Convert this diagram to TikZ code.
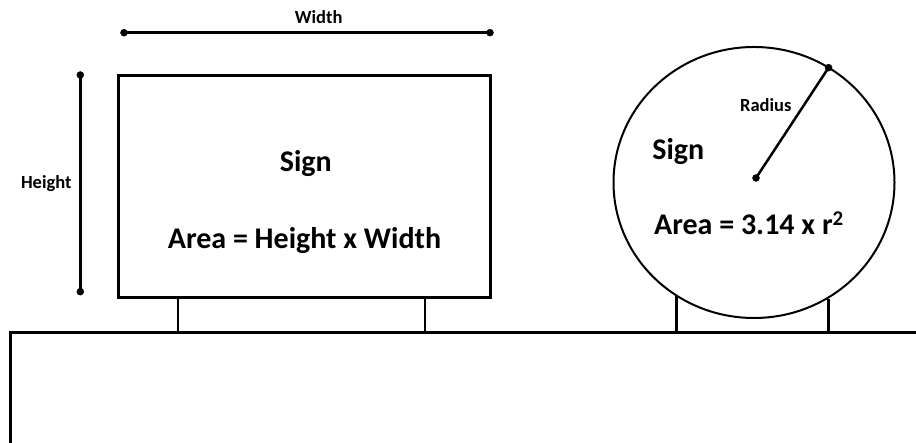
\documentclass[tikz,border=0pt]{standalone}
\usepackage{fontspec}
\setmainfont{Carlito}
\usetikzlibrary{shapes.geometric}

\begin{document}
\begin{tikzpicture}[x=1pt,y=1pt,
  small/.style={font=\fontsize{18.5}{22}\selectfont\bfseries, inner sep=0, anchor=base},
  big/.style={font=\fontsize{30}{36}\selectfont\bfseries, inner sep=0, anchor=base}]
\useasboundingbox (0,0) rectangle (916,443);
% ground
\coordinate (gl) at (10,110);
\coordinate (gr) at (916,110);
\draw[line width=3pt] (10,0)--(gl)--(gr);
% rectangular sign
\node[draw, line width=3pt, minimum width=372pt, minimum height=221.5pt, inner sep=0, outer sep=0] (board) at (304.2,256.4) {};
\coordinate (l1) at (178,110);
\coordinate (l2) at (425,110);
\draw[line width=2.5pt] (l1)--(l1 |- board.south);
\draw[line width=2.5pt] (l2)--(l2 |- board.south);
\node[big] (s1) at (305.8,271) {Sign};
\node[big] (a1) at (304.5,194.7) {Area = Height x Width};
% width
\coordinate (wl) at (124,410.3);
\coordinate (wr) at (490,410.3);
\draw[line width=2.5pt] (wl)--(wr);
\filldraw (wl) circle (3.5pt);
\filldraw (wr) circle (3.5pt);
\node[small] (wt) at (318.7,419.7) {Width};
% height
\coordinate (ht) at (80.3,368);
\coordinate (hb) at (80.3,151.3);
\draw[line width=2.5pt] (ht)--(hb);
\filldraw (ht) circle (3.5pt);
\filldraw (hb) circle (3.5pt);
\node[small] (htx) at (46.3,254.7) {Height};
% round sign
\node[draw, ellipse, line width=2pt, minimum width=281pt, minimum height=271pt, inner sep=0, outer sep=0] (disc) at (754,260.5) {};
\coordinate (c1) at (676.7,110);
\coordinate (c2) at (828.3,110);
\draw[line width=2.5pt] (c1)--(c1 |- disc.236);
\draw[line width=2.5pt] (c2)--(c2 |- disc.302.6);
\coordinate (ctr) at (756,265);
\draw[line width=2.5pt] (ctr)--(disc.57);
\filldraw (ctr) circle (3.5pt);
\filldraw (disc.57) circle (3.5pt);
\node[small] (rt) at (765.8,331) {Radius};
\node[big] (s2) at (678.3,283) {Sign};
\node[big] (a2) at (749,208) {Area = 3.14 x r\textsuperscript{2}};
\end{tikzpicture}
\end{document}
